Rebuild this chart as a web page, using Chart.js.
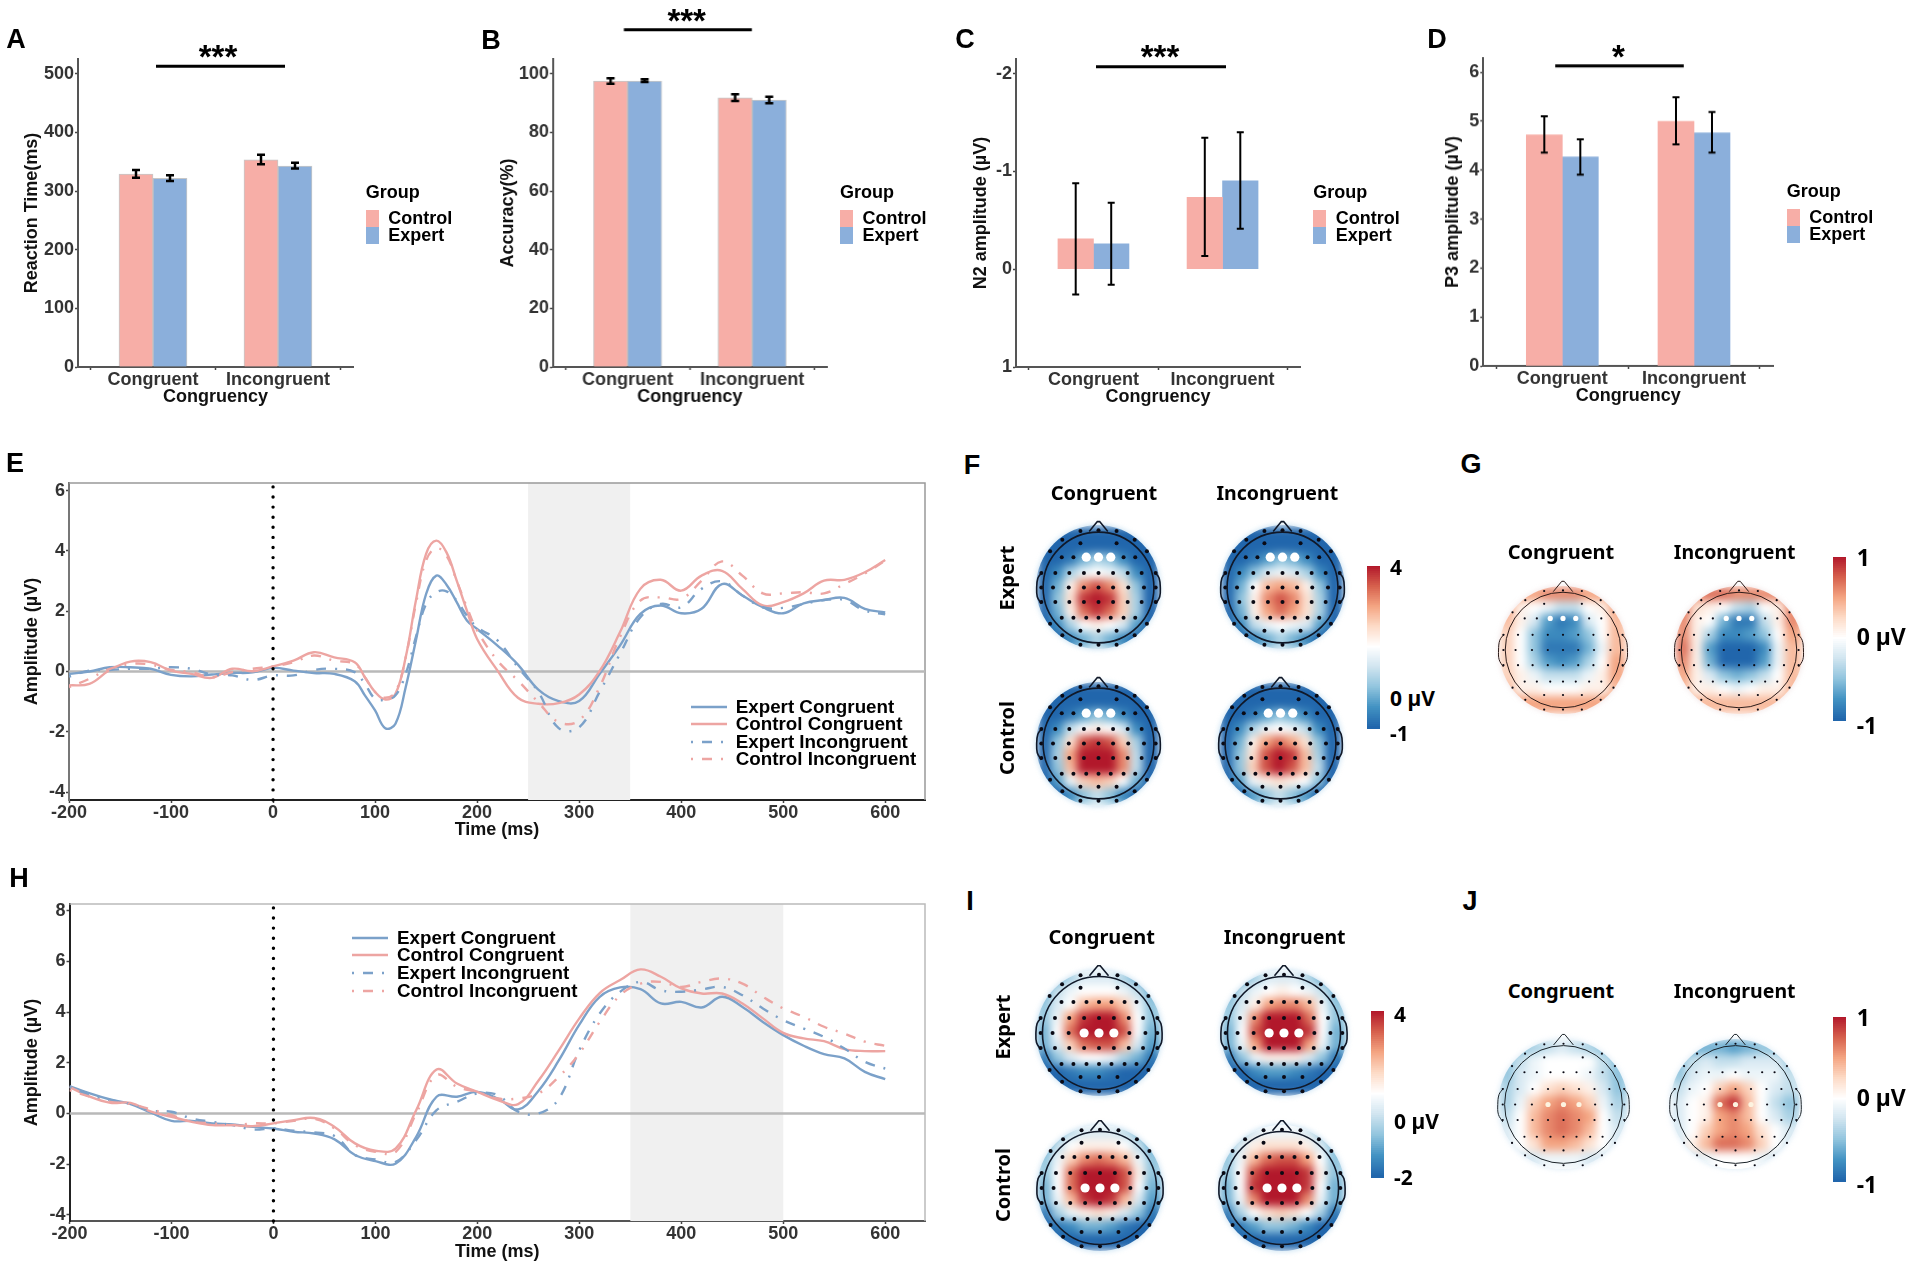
<!DOCTYPE html>
<html>
<head>
<meta charset="utf-8">
<title>Congruency</title>
<script src="https://cdn.jsdelivr.net/npm/chart.js@4"></script>
<style>
  html, body { margin: 0; padding: 0; background: #fff; }
  #page { position: relative; width: 1907px; height: 1265px; overflow: hidden; }
  canvas { position: absolute; }
  .txt { position: absolute; white-space: nowrap; color: #000; line-height: 1; }
  .swatch { position: absolute; }
  .disc { position: absolute; border-radius: 50%; overflow: hidden; }
</style>
</head>
<body>
<div id="page"></div>
<script>
// bar panels
const categories = ['Congruent', 'Incongruent'];
const groups = ['Control', 'Expert'];

const rtControl = [329, 353];
const rtExpert = [321.5, 342.5];
const rtControlErr = [[322.6, 336], [345.5, 362]];
const rtExpertErr = [[317, 327], [338.5, 348]];

const accControl = [97.5, 91.8];
const accExpert = [97.5, 91];
const accControlErr = [[96.6, 98.4], [90.7, 93]];
const accExpertErr = [[97.2, 98.1], [89.9, 92.1]];

const n2Control = [-0.31, -0.735];
const n2Expert = [-0.26, -0.905];
const n2ControlErr = [[0.258, -0.878], [-0.136, -1.344]];
const n2ExpertErr = [[0.16, -0.68], [-0.415, -1.4]];

const p3Control = [4.72, 5.0];
const p3Expert = [4.27, 4.76];
const p3ControlErr = [[4.36, 5.1], [4.53, 5.49]];
const p3ExpertErr = [[3.91, 4.63], [4.36, 5.19]];

const rtTicks = [0, 100, 200, 300, 400, 500];
const accTicks = [0, 20, 40, 60, 80, 100];
const n2Ticks = [-2, -1, 0, 1];
const p3Ticks = [0, 1, 2, 3, 4, 5, 6];

// ERP panels
const lineNames = ['Expert Congruent', 'Control Congruent', 'Expert Incongruent', 'Control Incongruent'];
const timeTicks = [-200, -100, 0, 100, 200, 300, 400, 500, 600];
const ampTicksE = [-4, -2, 0, 2, 4, 6];
const ampTicksH = [-4, -2, 0, 2, 4, 6, 8];
const bandE = [250, 350];
const bandH = [350, 500];

const timeE = [-200, -180, -160, -140, -120, -100, -80, -60, -40, -20, 0, 20, 40, 60, 80,
  90, 100, 110, 120, 130, 140, 150, 160, 170, 180, 190, 200,
  220, 240, 260, 280, 300, 320, 340, 360, 380, 400, 420, 440, 460, 480, 500, 520, 540, 560, 580, 600];
const eExpertCon = [-0.08, 0, 0.14, 0.14, 0.09, -0.11, -0.16, -0.1, -0.05, -0.03, 0.12, 0.03, -0.05, -0.08, -0.32,
  -0.79, -1.29, -1.88, -1.73, -0.52, 1.03, 2.57, 3.18, 2.88, 2.3, 1.69, 1.41,
  0.86, 0.23, -0.6, -0.98, -0.98, -0.08, 0.86, 1.91, 2.19, 1.93, 2.08, 2.9, 2.52, 2.13, 1.93, 2.26, 2.37, 2.44, 2.08, 1.96];
const eControlCon = [-0.46, -0.41, 0.05, 0.33, 0.31, 0.03, -0.08, -0.21, 0.09, 0.01, 0.17, 0.36, 0.64, 0.47, 0.31,
  -0.19, -0.68, -0.93, -0.74, 0.47, 2.35, 3.9, 4.34, 3.95, 3.01, 2.02, 1.08,
  0.03, -0.87, -1.07, -1.05, -0.76, 0.01, 1.3, 2.74, 3.04, 2.68, 3.18, 3.34, 2.74, 2.19, 2.3, 2.59, 3.01, 3.04, 3.29, 3.7];
const eExpertInc = [-0.17, 0.03, 0.05, 0.09, 0.09, 0.14, 0.09, -0.1, -0.13, -0.28, -0.13, -0.13, 0.05, 0.09, -0.02,
  -0.41, -0.9, -0.93, -0.79, -0.08, 1.14, 2.24, 2.63, 2.66, 2.35, 1.85, 1.47,
  1.03, 0.14, -0.68, -1.88, -1.85, -0.68, 0.58, 1.8, 2.24, 2.13, 2.74, 2.99, 2.52, 2.13, 2.11, 2.24, 2.37, 2.37, 2.02, 1.9];
const eControlInc = [-0.52, -0.24, 0.09, 0.25, 0.23, 0.05, -0.02, -0.19, -0.02, 0.09, 0.17, 0.31, 0.53, 0.36, 0.25,
  -0.19, -0.68, -0.87, -0.68, 0.47, 2.24, 3.68, 4.09, 3.84, 3.01, 2.13, 1.36,
  0.36, -0.3, -1.02, -1.68, -1.62, -0.52, 1.14, 2.35, 2.46, 2.41, 3.01, 3.65, 3.18, 2.59, 2.59, 2.63, 2.59, 2.9, 3.25, 3.68];

const timeH = [-200, -180, -160, -140, -120, -100, -80, -60, -40, -20, 0, 20, 40, 60, 80, 100, 120, 140, 160, 180, 200,
  220, 240, 260, 280, 300, 320, 340, 360, 380, 400, 420, 440, 460, 480, 500, 520, 540, 560, 580, 600];
const hExpertCon = [1.08, 0.79, 0.55, 0.37, 0.03, -0.29, -0.29, -0.39, -0.43, -0.53, -0.59, -0.72, -0.79, -1.02, -1.64, -1.88, -1.97, -0.92, 0.66, 0.66, 0.85,
  0.59, 0.16, 0.9, 2.1, 3.5, 4.6, 4.97, 4.9, 4.34, 4.4, 4.18, 4.6, 4.2, 3.61, 3.09, 2.67, 2.34, 2.17, 1.64, 1.35];
const hControlCon = [1.05, 0.66, 0.42, 0.42, 0.07, -0.13, -0.33, -0.46, -0.46, -0.5, -0.39, -0.26, -0.18, -0.53, -1.18, -1.47, -1.38, 0.13, 1.73, 1.18, 0.85,
  0.53, 0.37, 1.3, 2.5, 3.75, 4.75, 5.26, 5.68, 5.39, 4.93, 4.73, 4.73, 4.34, 3.75, 3.18, 2.96, 2.85, 2.54, 2.46, 2.46];
const hExpertInc = [1.05, 0.72, 0.53, 0.37, 0.11, 0.07, -0.2, -0.33, -0.46, -0.63, -0.59, -0.68, -0.75, -0.89, -1.64, -1.81, -1.91, -1.05, 0.13, 0.46, 0.79,
  0.72, 0.07, 0, 0.59, 2.5, 3.94, 4.8, 5.19, 4.86, 4.8, 4.89, 4.99, 4.66, 4.14, 3.68, 3.35, 3.02, 2.56, 2.04, 1.77];
const hControlInc = [0.92, 0.66, 0.46, 0.37, 0.16, -0.07, -0.33, -0.39, -0.46, -0.39, -0.39, -0.29, -0.21, -0.59, -1.25, -1.51, -1.51, 0, 1.51, 1.05, 0.85,
  0.59, 0.59, 0.79, 1.45, 2.37, 3.61, 4.66, 5.12, 5.19, 4.99, 5.19, 5.32, 5.12, 4.6, 4.14, 3.81, 3.42, 3.15, 2.83, 2.67];

const heatAxis = [-1, -0.75, -0.5, -0.25, 0, 0.25, 0.5, 0.75, 1];
const heatF1 = [
  [-10,-10,-10,-10,-10,-10,-10,-10,-10],
  [-10,-10,-10,-10,-10,-10,-10,-10,-10],
  [-10,-10,-9,-6,-4,-5,-8,-10,-10],
  [-10,-8,-4,-1,0,-1,-3,-8,-10],
  [-10,-6,1,6,8,6,2,-5,-10],
  [-10,-5,2,9,10,9,3,-4,-10],
  [-10,-6,1,7,9,7,3,-4,-10],
  [-10,-8,-4,0,1,0,-2,-7,-10],
  [-10,-10,-8,-6,-4,-6,-8,-10,-10]];
const heatF2 = [
  [-10,-10,-10,-10,-10,-10,-10,-10,-10],
  [-10,-10,-10,-10,-10,-10,-10,-10,-10],
  [-10,-10,-9,-7,-5,-6,-8,-10,-10],
  [-10,-8,-5,-2,-1,-2,-4,-8,-10],
  [-10,-6,0,4,5,4,1,-5,-10],
  [-10,-5,1,6,8,6,2,-4,-10],
  [-10,-6,1,5,7,5,2,-4,-10],
  [-10,-8,-3,-1,0,-1,-2,-7,-10],
  [-10,-10,-8,-6,-4,-6,-8,-10,-10]];
const heatF3 = [
  [-10,-10,-10,-10,-10,-10,-10,-10,-10],
  [-10,-10,-10,-10,-10,-10,-10,-10,-10],
  [-10,-10,-9,-7,-5,-6,-8,-10,-10],
  [-10,-8,-3,0,1,0,-2,-8,-10],
  [-10,-5,2,8,9,8,3,-4,-10],
  [-10,-4,5,10,10,10,6,-3,-10],
  [-10,-5,4,10,10,10,6,-3,-10],
  [-10,-7,-1,3,4,3,0,-6,-10],
  [-10,-10,-8,-5,-3,-5,-8,-10,-10]];
const heatF4 = [
  [-10,-10,-10,-10,-10,-10,-10,-10,-10],
  [-10,-10,-10,-10,-10,-10,-10,-10,-10],
  [-10,-10,-9,-7,-5,-6,-8,-10,-10],
  [-10,-8,-4,-1,0,-1,-3,-8,-10],
  [-10,-6,1,5,7,5,2,-5,-10],
  [-10,-5,2,8,10,9,4,-4,-10],
  [-10,-5,3,8,10,8,4,-3,-10],
  [-10,-7,-1,1,2,1,0,-5,-10],
  [-10,-10,-7,-5,-3,-5,-7,-10,-10]];
const heatG1 = [
  [5,5,5,6,6,6,5,5,5],
  [5,1,0,-1,-3,-3,0,1,5],
  [4,1,-2,-7,-9,-8,-2,0,4],
  [3,0,-5,-8,-8,-7,-5,0,4],
  [3,0,-5,-9,-9,-9,-6,-1,4],
  [3,0,-4,-7,-8,-7,-4,0,5],
  [3,1,-1,-3,-3,-3,-1,1,5],
  [4,1,1,0,0,0,1,1,4],
  [5,5,5,5,5,5,5,5,5]];
const heatG2 = [
  [6,6,7,7,6,6,6,6,6],
  [7,2,1,0,-3,-4,0,1,6],
  [6,1,0,-6,-9,-9,-3,1,6],
  [6,1,-4,-8,-8,-7,-5,0,5],
  [7,1,-7,-10,-10,-10,-8,-1,4],
  [6,1,-6,-10,-10,-10,-7,-1,4],
  [5,1,-2,-5,-6,-5,-3,0,4],
  [4,1,1,0,-1,0,1,1,4],
  [4,4,4,4,4,4,4,4,4]];
const heatI1 = [
  [-8,-6,-4,-2,-2,-2,-4,-6,-8],
  [-6,-3,-1,0,0,0,-1,-3,-6],
  [-5,-2,0,4,5,5,3,-1,-5],
  [-5,-1,5,9,10,10,6,0,-5],
  [-6,0,7,10,10,10,8,0,-6],
  [-6,-2,3,7,8,8,4,-2,-7],
  [-9,-5,-2,0,0,-1,-4,-6,-9],
  [-10,-10,-9,-8,-8,-9,-10,-10,-10],
  [-10,-10,-10,-10,-10,-10,-10,-10,-10]];
const heatI2 = [
  [-8,-6,-4,-2,-2,-2,-4,-6,-8],
  [-6,-3,-1,0,1,0,-1,-3,-6],
  [-5,-2,1,5,6,6,4,-1,-5],
  [-5,-1,6,10,10,10,7,0,-5],
  [-6,0,8,10,10,10,9,0,-6],
  [-6,-1,5,10,10,10,5,-1,-6],
  [-9,-5,-1,1,1,1,-2,-5,-9],
  [-10,-10,-8,-7,-7,-8,-9,-10,-10],
  [-10,-10,-10,-10,-10,-10,-10,-10,-10]];
const heatI3 = [
  [-7,-5,-3,-2,-2,-2,-3,-5,-7],
  [-6,-3,0,1,1,1,0,-3,-6],
  [-5,-1,3,6,7,6,4,-1,-5],
  [-5,0,7,10,10,10,8,1,-5],
  [-6,0,7,10,10,10,8,0,-6],
  [-6,-1,4,9,10,9,4,-2,-7],
  [-9,-4,-1,1,2,1,-2,-5,-9],
  [-10,-9,-8,-6,-6,-7,-9,-10,-10],
  [-10,-10,-10,-10,-10,-10,-10,-10,-10]];
const heatI4 = [
  [-6,-4,-2,-1,-1,-1,-2,-4,-6],
  [-5,-2,1,2,2,2,1,-2,-5],
  [-5,-1,4,7,8,8,5,0,-5],
  [-5,0,8,10,10,10,9,1,-5],
  [-6,0,9,10,10,10,9,0,-6],
  [-6,-1,6,10,10,10,6,-1,-6],
  [-9,-4,0,2,3,2,0,-4,-9],
  [-10,-9,-7,-5,-5,-6,-8,-10,-10],
  [-10,-10,-10,-10,-10,-10,-10,-10,-10]];
const heatJ1 = [
  [-5,-5,-4,-3,-2,-3,-4,-5,-5],
  [-5,-3,-1,0,0,0,0,-3,-5],
  [-5,-2,-1,0,0,0,-1,-3,-5],
  [-4,-2,0,2,3,2,1,-2,-5],
  [-4,-1,3,5,6,5,3,-1,-4],
  [-3,0,4,6,7,6,5,0,-3],
  [-2,0,4,6,7,6,4,0,-2],
  [-2,0,2,5,5,4,2,0,-2],
  [-2,-2,-2,-1,-1,-1,-2,-2,-2]];
const heatJ2 = [
  [-6,-6,-6,-6,-7,-6,-5,-5,-5],
  [-5,-3,-2,-3,-3,-2,-2,-2,-4],
  [-5,-2,-1,-1,0,-1,-1,-1,-3],
  [-3,-1,0,3,5,3,0,-2,-3],
  [-2,0,1,7,9,4,0,-3,-5],
  [-2,0,1,5,6,4,0,-2,-4],
  [-2,0,3,5,6,5,2,0,-2],
  [-2,1,4,7,7,6,3,0,-2],
  [-2,-2,-1,0,0,0,-1,-2,-2]];

// electrode layout, in head radii
const electrodeX = [0, -0.25, 0.25, -0.51, 0.51, -0.78, 0.78, -0.98, 0.98,
  0, -0.25, 0.25, -0.5, 0.5, -0.74, 0.74, -0.98, 0.98,
  0, -0.25, 0.25, -0.5, 0.5, -0.74, 0.74, -0.98, 0.98,
  0, -0.21, 0.21, -0.43, 0.43, -0.63, 0.63, -0.83, 0.83,
  0, -0.21, 0.21, -0.43, 0.43, -0.63, 0.63, -0.83, 0.83,
  -0.31, 0.31, -0.62, 0.62, 0, -0.31, 0.31,
  0, -0.31, 0.31, -0.62, 0.62, 0, -0.31, 0.31];
const electrodeY = [0, 0, 0, 0, 0, 0, 0, 0, 0,
  0.25, 0.25, 0.25, 0.25, 0.25, 0.25, 0.25, 0.25, 0.25,
  -0.25, -0.25, -0.25, -0.25, -0.25, -0.25, -0.25, -0.25, -0.25,
  0.52, 0.52, 0.52, 0.52, 0.52, 0.52, 0.52, 0.62, 0.62,
  -0.52, -0.52, -0.52, -0.52, -0.52, -0.52, -0.52, -0.62, -0.62,
  0.76, 0.76, 0.82, 0.82, 0.98, 0.97, 0.97,
  -0.74, -0.74, -0.74, -0.82, -0.82, -0.98, -0.98, -0.98];
const frontalX = [-0.21, 0, 0.21];
const frontalY = [0.52, 0.52, 0.52];
const centralX = [-0.25, 0, 0.25];
const centralY = [0, 0, 0];
const noseX = [-0.16, -0.02, 0.02, 0.16];
const noseY = [0.96, 1.13, 1.13, 0.96];
const earX = [0.97, 1.04, 1.06, 1.05, 0.98];
const earY = [0.26, 0.16, 0, -0.16, -0.28];

const colorStops = [[-10,33,102,172],[-7.5,67,147,195],[-5,146,197,222],[-2.5,209,229,240],[0,255,255,255],[2.5,253,219,199],[5,244,165,130],[7.5,214,96,77],[10,178,24,43]];

const PINK = '#f7aea7', BLUE = '#8bafdb';
const LINE_BLUE = '#7ba1c9', LINE_PINK = '#eda5a2';
const ARIAL = '"Liberation Sans", Arial, sans-serif';
const YAHEI = '"Noto Sans", "Open Sans", sans-serif';
const page = document.getElementById('page');

Chart.defaults.animation = false;
Chart.defaults.responsive = false;
Chart.defaults.events = [];
Chart.defaults.plugins.legend.display = false;
Chart.defaults.plugins.tooltip.enabled = false;

function addCanvas(left, top, w, h, parent) {
    const c = document.createElement('canvas');
    c.width = w;
    c.height = h;
    c.style.left = left + 'px';
    c.style.top = top + 'px';
    c.style.width = w + 'px';
    c.style.height = h + 'px';
    (parent || page).appendChild(c);
    return c;
}

function addText(str, x, y, size, opts) {
    opts = opts || {};
    const d = document.createElement('div');
    d.className = 'txt';
    d.textContent = str;
    d.style.left = x + 'px';
    d.style.top = y + 'px';
    d.style.fontSize = size + 'px';
    d.style.fontWeight = opts.weight || 700;
    d.style.fontFamily = opts.font || ARIAL;
    if (opts.color) d.style.color = opts.color;
    const ax = opts.anchor === 'left' ? '0' : '-50%';
    d.style.transform = `translate(${ax},-50%)` + (opts.rotate ? ` rotate(${opts.rotate}deg)` : '');
    page.appendChild(d);
    return d;
}

function ticksFrom(list) {
    return axis => { axis.ticks = list.map(v => ({ value: v })); };
}

function tickOptions(padding) {
    return { color: '#333', font: { family: ARIAL, size: 18, weight: 'bold', lineHeight: 1.2 }, padding: padding, maxRotation: 0, autoSkip: false, includeBounds: false };
}

function axisOptions(extra) {
    return Object.assign({
        offset: false,
        grid: { display: true, drawOnChartArea: false, drawTicks: true, tickLength: 3, tickColor: '#444', tickWidth: 1.5 },
        border: { display: true, color: '#555', width: 2 },
        ticks: tickOptions(1)
    }, extra);
}

function titleOptions(text, padding) {
    return { display: true, text: text, color: '#111', padding: padding, font: { family: ARIAL, size: 18, weight: 'bold', lineHeight: 1.2 } };
}

// draws the error bars from value arrays through the y scale
const errorBarPlugin = {
    id: 'errorBars',
    afterDatasetsDraw(chart, args, opts) {
        const ctx = chart.ctx, y = chart.scales.y;
        ctx.save();
        ctx.strokeStyle = '#000';
        ctx.lineWidth = opts.width;
        opts.series.forEach((errs, ds) => {
            const bars = chart.getDatasetMeta(ds).data;
            errs.forEach((e, i) => {
                const x = bars[i].x, a = y.getPixelForValue(e[0]), b = y.getPixelForValue(e[1]);
                ctx.beginPath();
                ctx.moveTo(x, a); ctx.lineTo(x, b);
                ctx.moveTo(x - opts.cap, a); ctx.lineTo(x + opts.cap, a);
                ctx.moveTo(x - opts.cap, b); ctx.lineTo(x + opts.cap, b);
                ctx.stroke();
            });
        });
        ctx.restore();
    }
};

function barPanel(p) {
    const mt = 40, mb = 45, mr = 60, ml = p.left - p.canvasLeft;
    const canvas = addCanvas(p.canvasLeft, p.top - mt, ml + p.right - p.left + mr, mt + p.bottom - p.top + mb);
    const unit = (p.right - p.left) / 2.2;
    const toX = px => 0.4 + (px - p.left) / unit;
    const bar = (label, values, color) => ({
        label: label,
        data: values.map((v, i) => ({ x: i + 1, y: v })),
        backgroundColor: color,
        borderColor: p.edge || color,
        borderWidth: p.edge ? 1 : 0,
        barThickness: p.barWidth
    });
    new Chart(canvas, {
        type: 'bar',
        data: {
            datasets: [
                bar(groups[0], p.control, PINK),
                bar(groups[1], p.expert, BLUE),
                { type: 'line', label: 'sig', data: [{ x: toX(p.sigX[0]), y: p.sigValue }, { x: toX(p.sigX[1]), y: p.sigValue }],
                  borderColor: '#000', borderWidth: 3, pointRadius: 0, clip: false, order: -1 }
            ]
        },
        plugins: [errorBarPlugin],
        options: {
            layout: { padding: { top: mt, right: mr, left: 0, bottom: 0 } },
            plugins: { errorBars: { series: [p.controlErr, p.expertErr], width: p.errWidth, cap: p.errCap } },
            scales: {
                x: axisOptions({
                    type: 'linear', min: 0.4, max: 2.6,
                    afterBuildTicks: ticksFrom([1, 2]),
                    afterFit: s => { s.height = mb; },
                    title: titleOptions('Congruency', { top: 0, bottom: p.bottom + mb - p.xTitleY - 10.8 }),
                    ticks: Object.assign(tickOptions(-1), { callback: v => categories[v - 1] })
                }),
                y: axisOptions({
                    type: 'linear', min: p.yMin, max: p.yMax, reverse: !!p.reverse,
                    afterBuildTicks: ticksFrom(p.yTicks),
                    afterFit: s => { s.width = ml; },
                    title: titleOptions(p.yTitle, { top: p.yTitleX - p.canvasLeft - 10.8, bottom: 0 })
                })
            }
        }
    });
    addText(p.stars, p.starX, p.starY, 33);
    addText('Group', p.legendX, p.legendY, 18, { anchor: 'left' });
    groups.forEach((g, i) => {
        const s = document.createElement('div');
        s.className = 'swatch';
        s.style.left = p.legendX + 'px';
        s.style.top = (p.legendY + 17.5 + i * 17) + 'px';
        s.style.width = '13px';
        s.style.height = '17px';
        s.style.background = i ? BLUE : PINK;
        page.appendChild(s);
        addText(g, p.legendX + 22.5, p.legendY + 26 + i * 17, 18, { anchor: 'left' });
    });
}

const framePlugin = {
    id: 'frame',
    beforeDatasetsDraw(chart, args, opts) {
        const ctx = chart.ctx, a = chart.chartArea, x = chart.scales.x;
        ctx.save();
        ctx.fillStyle = '#f0f0f0';
        ctx.fillRect(x.getPixelForValue(opts.band[0]), a.top, x.getPixelForValue(opts.band[1]) - x.getPixelForValue(opts.band[0]), a.bottom - a.top);
        ctx.strokeStyle = opts.color;
        ctx.lineWidth = 1.5;
        ctx.beginPath();
        ctx.moveTo(a.left, a.top); ctx.lineTo(a.right, a.top); ctx.lineTo(a.right, a.bottom);
        ctx.stroke();
        ctx.restore();
    }
};

function erpPanel(p) {
    const mt = 12, mb = 45, mr = 30, ml = p.left - 8;
    const canvas = addCanvas(8, p.top - mt, ml + p.right - p.left + mr, mt + p.bottom - p.top + mb);
    const DOTDASH = [2, 9, 10, 9];
    const curve = (i, values, color, dash) => ({
        label: lineNames[i],
        data: p.time.map((t, k) => ({ x: t, y: values[k] })),
        borderColor: color, borderWidth: 2.4, borderDash: dash, pointRadius: 0, tension: 0.4, order: 4 - i
    });
    new Chart(canvas, {
        type: 'line',
        data: {
            datasets: [
                curve(0, p.series[0], LINE_BLUE, []),
                curve(1, p.series[1], LINE_PINK, []),
                curve(2, p.series[2], LINE_BLUE, DOTDASH),
                curve(3, p.series[3], LINE_PINK, DOTDASH),
                { label: 'zero', data: [{ x: -200, y: 0 }, { x: 639, y: 0 }], borderColor: '#b9b9b9', borderWidth: 2.5, pointRadius: 0, order: 9 },
                { label: 'onset', data: [{ x: 0, y: p.yMin }, { x: 0, y: p.yMax }], borderColor: '#000', borderWidth: 3.4, borderDash: [0, 10.1], borderCapStyle: 'round', pointRadius: 0, clip: false, order: 0 }
            ]
        },
        plugins: [framePlugin],
        options: {
            layout: { padding: { top: mt, right: mr, left: 0, bottom: 0 } },
            plugins: { frame: { band: p.band, color: p.frame } },
            scales: {
                x: axisOptions({
                    type: 'linear', min: -200, max: 639,
                    afterBuildTicks: ticksFrom(timeTicks),
                    afterFit: s => { s.height = mb; },
                    border: { display: true, color: p.xLine, width: 2 },
                    ticks: tickOptions(-1),
                    title: titleOptions('Time (ms)', { top: 0, bottom: p.bottom + mb - p.xTitleY - 10.8 })
                }),
                y: axisOptions({
                    type: 'linear', min: p.yMin, max: p.yMax,
                    afterBuildTicks: ticksFrom(p.yTicks),
                    afterFit: s => { s.width = ml; },
                    border: { display: true, color: p.yLine, width: 2 },
                    title: titleOptions('Amplitude (µV)', { top: p.yTitleX - 8 - 10.8, bottom: 0 })
                })
            }
        }
    });
    lineNames.forEach((name, i) => {
        const y = p.legendY[i];
        const svg = document.createElementNS('http://www.w3.org/2000/svg', 'svg');
        svg.setAttribute('width', 37);
        svg.setAttribute('height', 6);
        svg.style.position = 'absolute';
        svg.style.left = p.legendX + 'px';
        svg.style.top = (y - 3) + 'px';
        const l = document.createElementNS('http://www.w3.org/2000/svg', 'line');
        l.setAttribute('x1', 0); l.setAttribute('x2', 36);
        l.setAttribute('y1', 3); l.setAttribute('y2', 3);
        l.setAttribute('stroke', i % 2 ? LINE_PINK : LINE_BLUE);
        l.setAttribute('stroke-width', 2.4);
        if (i > 1) l.setAttribute('stroke-dasharray', '2 9 10 9');
        svg.appendChild(l);
        page.appendChild(svg);
        addText(name, p.legendX + 45, y, 18.8, { anchor: 'left' });
    });
}

function levelColor(v) {
    for (let i = 1; i < colorStops.length; i++) {
        if (v <= colorStops[i][0]) {
            const a = colorStops[i - 1], b = colorStops[i], t = (v - a[0]) / (b[0] - a[0]);
            return `rgb(${a[1] + (b[1] - a[1]) * t},${a[2] + (b[2] - a[2]) * t},${a[3] + (b[3] - a[3]) * t})`;
        }
    }
    return 'rgb(178,24,43)';
}

const hiddenScales = {
    x: { type: 'linear', display: false, min: -1.25, max: 1.25 },
    y: { type: 'linear', display: false, min: -1.25, max: 1.25 }
};

const headRingPlugin = {
    id: 'headRing',
    afterDatasetsDraw(chart, args, opts) {
        const ctx = chart.ctx, x = chart.scales.x, y = chart.scales.y;
        ctx.save();
        ctx.strokeStyle = opts.color;
        ctx.lineWidth = opts.width;
        ctx.beginPath();
        ctx.arc(x.getPixelForValue(0), y.getPixelForValue(0), x.getPixelForValue(0.95) - x.getPixelForValue(0), 0, Math.PI * 2);
        ctx.stroke();
        ctx.restore();
    }
};

function topoMap(cx, cy, R, grid, t) {
    const size = Math.round(R * 2.5), off = (size - 2 * R) / 2;
    const disc = document.createElement('div');
    disc.className = 'disc';
    disc.style.left = (cx - R) + 'px';
    disc.style.top = (cy - R) + 'px';
    disc.style.width = (2 * R) + 'px';
    disc.style.height = (2 * R) + 'px';
    disc.style.boxShadow = '0 0 5px 1px ' + t.halo;
    page.appendChild(disc);
    const heat = addCanvas(-off, -off, size, size, disc);
    heat.style.filter = 'blur(4.5px)';
    new Chart(heat, {
        type: 'scatter',
        data: { datasets: [{
            data: grid.flatMap((row, i) => row.map((v, j) => ({ x: heatAxis[j], y: heatAxis[8 - i], v: v }))),
            pointStyle: 'rect', pointRadius: size * 0.1 * 0.76, pointBorderWidth: 0, clip: false,
            pointBackgroundColor: c => levelColor(c.raw.v)
        }] },
        options: { layout: { padding: 0 }, scales: hiddenScales }
    });
    const over = addCanvas(cx - size / 2, cy - size / 2, size, size);
    const outline = (xs, ys, sign) => ({
        type: 'line', data: xs.map((v, i) => ({ x: v * sign, y: ys[i] })),
        borderColor: t.line, borderWidth: t.lineWidth, pointRadius: 0, tension: 0.35, fill: false, clip: false
    });
    new Chart(over, {
        type: 'scatter',
        data: { datasets: [
            { data: t.hiX.map((v, i) => ({ x: v, y: t.hiY[i] })), pointRadius: t.hiR, pointBackgroundColor: t.hiColor, pointBorderWidth: 0, order: 0 },
            { data: electrodeX.map((v, i) => ({ x: v, y: electrodeY[i] })), pointRadius: t.dotR, pointBackgroundColor: '#0a0a14', pointBorderWidth: 0, order: 1 },
            Object.assign(outline(noseX, noseY, 1), { tension: 0, order: 2 }),
            Object.assign(outline(earX, earY, 1), { order: 2 }),
            Object.assign(outline(earX, earY, -1), { order: 2 })
        ] },
        plugins: [headRingPlugin],
        options: { layout: { padding: 0 }, scales: hiddenScales, plugins: { headRing: { color: t.line, width: t.lineWidth } } }
    });
}

function colorBar(left, top, w, h) {
    const levels = [];
    for (let v = 10; v >= -10; v -= 0.25) levels.push(v);
    new Chart(addCanvas(left, top, w, h), {
        type: 'bar',
        data: { labels: levels, datasets: [{
            data: levels.map(() => 1), categoryPercentage: 1, barPercentage: 1, inflateAmount: 1,
            backgroundColor: levels.map(levelColor)
        }] },
        options: {
            indexAxis: 'y', layout: { padding: 0 },
            scales: { x: { display: false, min: 0, max: 1 }, y: { display: false } }
        }
    });
}

function sideLabels(list, x, size) {
    list.forEach(l => addText(l[0], x, l[1], size, { anchor: 'left', font: YAHEI }));
}

// top row
barPanel({ left: 78, right: 353, top: 59, bottom: 367, canvasLeft: 8, control: rtControl, expert: rtExpert, controlErr: rtControlErr, expertErr: rtExpertErr,
    yMin: 0, yMax: 525, yTicks: rtTicks, yTitle: 'Reaction Time(ms)', yTitleX: 32, xTitleY: 397, barWidth: 34, errWidth: 2.5, errCap: 4, edge: 'rgba(130,130,130,0.45)',
    sigX: [156, 285], sigValue: (367 - 66.3) / 0.5866, stars: '***', starX: 218, starY: 56, legendX: 365.7, legendY: 192 });
barPanel({ left: 552.7, right: 826.7, top: 59, bottom: 367, canvasLeft: 480, control: accControl, expert: accExpert, controlErr: accControlErr, expertErr: accExpertErr,
    yMin: 0, yMax: 105, yTicks: accTicks, yTitle: 'Accuracy(%)', yTitleX: 507.7, xTitleY: 397, barWidth: 34, errWidth: 2.5, errCap: 4, edge: 'rgba(130,130,130,0.45)',
    sigX: [623.7, 751.7], sigValue: (367 - 29.7) / 2.933, stars: '***', starX: 686.7, starY: 20, legendX: 840, legendY: 192 });
barPanel({ left: 1016, right: 1300, top: 59, bottom: 367, canvasLeft: 960, control: n2Control, expert: n2Expert, controlErr: n2ControlErr, expertErr: n2ExpertErr,
    yMin: -2.15, yMax: 1, reverse: true, yTicks: n2Ticks, yTitle: 'N2 amplitude (µV)', yTitleX: 980.7, xTitleY: 397, barWidth: 35.5, errWidth: 2, errCap: 3.5,
    sigX: [1096, 1226], sigValue: (66 - 269) / 98, stars: '***', starX: 1160, starY: 56, legendX: 1313.3, legendY: 192 });
barPanel({ left: 1483.3, right: 1773.3, top: 58.3, bottom: 366, canvasLeft: 1430, control: p3Control, expert: p3Expert, controlErr: p3ControlErr, expertErr: p3ExpertErr,
    yMin: 0, yMax: 6.29, yTicks: p3Ticks, yTitle: 'P3 amplitude (µV)', yTitleX: 1453.3, xTitleY: 396, barWidth: 36, errWidth: 2, errCap: 3.5,
    sigX: [1555.3, 1684], sigValue: (366 - 66.3) / 48.9, stars: '*', starX: 1618.3, starY: 56, legendX: 1786.7, legendY: 191 });

// ERP waveforms
erpPanel({ left: 69, right: 925, top: 482.7, bottom: 799.7, time: timeE, series: [eExpertCon, eControlCon, eExpertInc, eControlInc], band: bandE,
    yMin: -4.26, yMax: 6.25, yTicks: ampTicksE, yTitleX: 31.7, xTitleY: 830, frame: '#999', xLine: '#222', yLine: '#777',
    legendX: 690.7, legendY: [706.7, 724, 741.7, 759.3] });
erpPanel({ left: 69.5, right: 925, top: 904, bottom: 1221, time: timeH, series: [hExpertCon, hControlCon, hExpertInc, hControlInc], band: bandH,
    yMin: -4.24, yMax: 8.26, yTicks: ampTicksH, yTitleX: 31.7, xTitleY: 1251.7, frame: '#bbb', xLine: '#555', yLine: '#222',
    legendX: 352, legendY: [937.7, 955, 973, 990.7] });

// topographies
const bigFrontal = { hiX: frontalX, hiY: frontalY, hiR: 4.6, hiColor: '#fff', dotR: 2, line: '#101828', lineWidth: 1.6, halo: 'rgba(190,220,240,0.7)' };
const bigCentral = Object.assign({}, bigFrontal, { hiX: centralX, hiY: centralY });
const smallFrontal = { hiX: frontalX, hiY: frontalY, hiR: 2.6, hiColor: '#fff', dotR: 1.1, line: '#2a1a18', lineWidth: 1, halo: 'rgba(240,225,225,0.7)' };
const smallCentral = { hiX: centralX, hiY: centralY, hiR: 2.6, hiColor: '#fdf3e0', dotR: 1.1, line: '#1a2228', lineWidth: 1, halo: 'rgba(215,232,245,0.7)' };

topoMap(1098.3, 587, 62, heatF1, bigFrontal);
topoMap(1282.7, 587, 62, heatF2, bigFrontal);
topoMap(1098, 743.7, 62, heatF3, bigFrontal);
topoMap(1280.3, 743.7, 62, heatF4, bigFrontal);
topoMap(1563.3, 650.3, 64, heatG1, smallFrontal);
topoMap(1738.7, 650.3, 64, heatG2, smallFrontal);
topoMap(1098.7, 1033.3, 63, heatI1, bigCentral);
topoMap(1283.7, 1033.3, 63, heatI2, bigCentral);
topoMap(1100, 1188.3, 63, heatI3, bigCentral);
topoMap(1282, 1188.3, 63, heatI4, bigCentral);
topoMap(1563.3, 1104.3, 65, heatJ1, smallCentral);
topoMap(1735, 1104.3, 65, heatJ2, smallCentral);

colorBar(1367.3, 566.3, 13, 163);
colorBar(1832.7, 556.7, 13, 164.3);
colorBar(1371.3, 1011.3, 13, 167);
colorBar(1832.7, 1016.7, 13, 165);

sideLabels([['4', 567], ['0 µV', 698], ['-1', 732.7]], 1390, 21);
sideLabels([['1', 556.7], ['0 µV', 636], ['-1', 725]], 1856.7, 23);
sideLabels([['4', 1014], ['0 µV', 1121], ['-2', 1176.7]], 1394, 21);
sideLabels([['1', 1016.7], ['0 µV', 1096.7], ['-1', 1184.3]], 1856.7, 23);

[[1104, 492.7], [1561, 551.7], [1101.7, 937.3], [1561, 990.7]].forEach(p => addText(categories[0], p[0], p[1], 20, { font: YAHEI }));
[[1277.3, 492.7], [1734.7, 551.7], [1284.7, 937.3], [1734.7, 990.7]].forEach(p => addText(categories[1], p[0], p[1], 19.5, { font: YAHEI }));
[[1006.7, 577.7], [1003.3, 1027.3]].forEach(p => addText('Expert', p[0], p[1], 20, { font: YAHEI, rotate: -90 }));
[[1006.7, 737.7], [1003.3, 1185]].forEach(p => addText('Control', p[0], p[1], 20, { font: YAHEI, rotate: -90 }));

// panel letters
[['A', 16, 39], ['B', 491, 40], ['C', 965, 39], ['D', 1437, 39], ['E', 15, 463], ['F', 972, 465], ['G', 1471, 464], ['H', 19, 878], ['I', 970, 901], ['J', 1470, 901]]
    .forEach(l => addText(l[0], l[1], l[2], 27));
</script>
</body>
</html>
